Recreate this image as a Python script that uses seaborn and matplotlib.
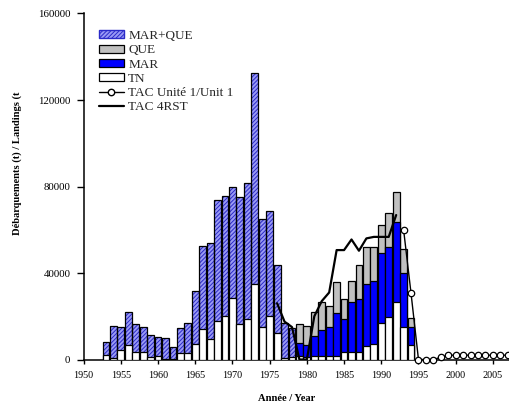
import matplotlib
matplotlib.use("Agg")
import matplotlib.pyplot as plt
import pandas as pd
import seaborn as sns
from matplotlib.patches import Patch
from matplotlib.lines import Line2D

# ---------------- data (tonnes) ----------------
years_early = list(range(1953, 1979))
tn_early = [1900, 500, 4400, 6700, 3600, 3600, 1200, 1600, 200, 100, 2900, 2900, 7100,
            14000, 9600, 17700, 20100, 28400, 16400, 18900, 34900, 15200, 20100, 12200, 500, 1200]
marque_early = [6000, 14800, 10500, 15100, 12900, 11300, 10000, 8900, 9600, 5800, 11700, 14100, 24500,
                38400, 44400, 56000, 55600, 51300, 58800, 62500, 97600, 49600, 48800, 31300, 16200, 13200]

years_late = list(range(1979, 1995))
tn_late = [1500, 1300, 1600, 1600, 1600, 1600, 3600, 3600, 3600, 6200, 7000, 16700, 19800, 26700, 15200, 6700]
mar_late = [6100, 5200, 9400, 12000, 13300, 20000, 15100, 22800, 24400, 28700, 29100, 32700, 32000, 37000, 24600, 8200]
que_late = [8600, 8900, 10800, 13000, 9800, 14100, 9400, 9700, 15500, 16900, 16000, 12600, 15900, 13800, 11400, 4100]

tac4_years = list(range(1976, 1993))
tac4 = [26000, 17500, 15000, 0, 0, 20000, 27000, 31000, 50600, 50600, 55500, 50300, 56000, 56700, 56700, 56700, 66800]

tac1_years = list(range(1993, 2008))
tac1 = [60000, 30600, 0, 0, 0, 1000, 2000, 2000, 2000, 2000, 2000, 2000, 2000, 2000, 2000]

labels = ["MAR+QUE", "QUE", "MAR", "TN", "TAC Unité 1/Unit 1", "TAC 4RST"]

# ---------------- frames ----------------
early = pd.DataFrame({"year": years_early, "tn": tn_early, "mq": marque_early})
early["top"] = early["tn"] + early["mq"]
late = pd.DataFrame({"year": years_late, "tn": tn_late, "mar": mar_late, "que": que_late})
late["blue_top"] = late["tn"] + late["mar"]
late["gray_top"] = late["blue_top"] + late["que"]
tn_all = pd.concat([early[["year", "tn"]], late[["year", "tn"]]], ignore_index=True)

# ---------------- style ----------------
sns.set_theme(style="ticks")
plt.rcParams["font.family"] = ["Liberation Serif", "DejaVu Serif"]
plt.rcParams["hatch.linewidth"] = 0.7

HATCH_FACE = "#9a9af5"
HATCH_LINE = "#2a2ac8"
W = 0.92

fig = plt.figure(figsize=(5.1, 4.09), dpi=100)
ax = fig.add_axes([0.164, 0.121, 0.836, 0.846])

common = dict(native_scale=True, width=W, errorbar=None, saturation=1, ax=ax)

# hatched MAR+QUE (early years)
sns.barplot(data=early, x="year", y="top", facecolor=HATCH_FACE, edgecolor=HATCH_LINE,
            linewidth=0, hatch="////////", zorder=1, **common)
sns.barplot(data=early, x="year", y="top", fill=False, color="black", linewidth=0.9, zorder=2, **common)
# QUE (gray) stacked total, MAR (blue)
sns.barplot(data=late, x="year", y="gray_top", facecolor="#c0c0c0", edgecolor="black",
            linewidth=0.9, zorder=2, **common)
sns.barplot(data=late, x="year", y="blue_top", facecolor="#0000ff", edgecolor="black",
            linewidth=0.9, zorder=3, **common)
# TN (white)
sns.barplot(data=tn_all, x="year", y="tn", facecolor="white", edgecolor="black",
            linewidth=0.9, zorder=4, **common)

# TAC lines
sns.lineplot(x=tac4_years, y=tac4, color="black", linewidth=1.6, zorder=5, ax=ax)
sns.lineplot(x=tac1_years, y=tac1, color="black", linewidth=1.0, marker="o", markersize=4.6,
             markerfacecolor="white", markeredgecolor="black", markeredgewidth=0.9,
             zorder=6, clip_on=False, ax=ax)

# ---------------- axes ----------------
ax.set_xlim(1950, 2007.3)
ax.set_ylim(0, 160000)
ax.set_xticks(range(1950, 2010, 5))
ax.set_yticks(range(0, 160001, 40000))
ax.set_yticklabels([str(v) for v in range(0, 160001, 40000)])
ax.tick_params(axis="both", colors="black", width=1)
ax.tick_params(axis="y", length=5, pad=4.5, labelsize=7.8)
ax.tick_params(axis="x", length=3, pad=5, labelsize=7.3)
for s in ["top", "right"]:
    ax.spines[s].set_visible(False)
for s in ["left", "bottom"]:
    ax.spines[s].set_color("black")
    ax.spines[s].set_linewidth(1.1)

ax.set_ylabel("Débarquements (t) / Landings (t", fontsize=7.6, fontweight="bold", color="black")
ax.yaxis.set_label_coords(-0.145, 0.568)
ax.set_xlabel("Année / Year", fontsize=7.6, fontweight="bold", color="black")
ax.xaxis.set_label_coords(0.477, -0.1)

handles = [
    Patch(facecolor=HATCH_FACE, edgecolor=HATCH_LINE, hatch="////////"),
    Patch(facecolor="#c0c0c0", edgecolor="black", linewidth=0.9),
    Patch(facecolor="#0000ff", edgecolor="black", linewidth=0.9),
    Patch(facecolor="white", edgecolor="black", linewidth=0.9),
    Line2D([], [], color="black", linewidth=1.0, marker="o", markersize=4.6,
           markerfacecolor="white", markeredgecolor="black"),
    Line2D([], [], color="black", linewidth=1.6),
]
ax.legend(handles, labels, loc="upper left", bbox_to_anchor=(0.035, 0.952), frameon=False,
          fontsize=9.5, handlelength=1.9, handleheight=0.55, labelspacing=0.17,
          handletextpad=0.35, borderpad=0, borderaxespad=0)

fig.savefig("out.png", dpi=100)
